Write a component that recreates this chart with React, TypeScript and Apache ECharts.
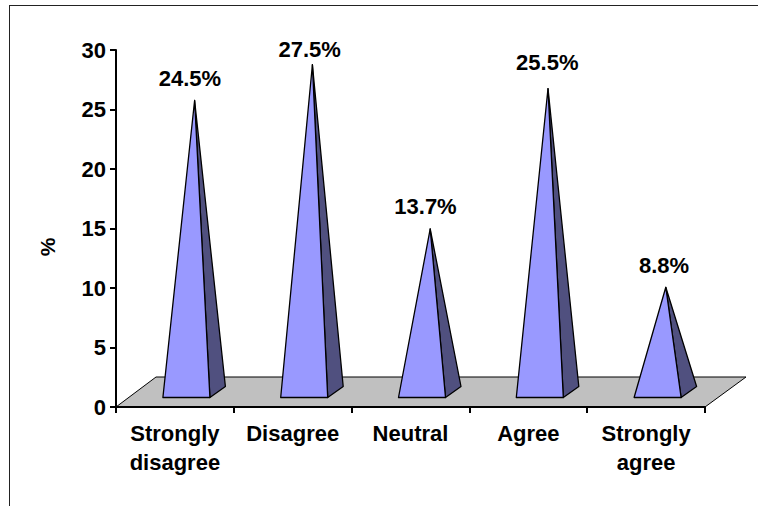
import React, { useEffect, useRef } from "react";
import * as echarts from "echarts";

const categories = ["Strongly\ndisagree", "Disagree", "Neutral", "Agree", "Strongly\nagree"];
const heights = [24.5, 27.5, 13.7, 25.5, 8.8];
const yTicks = { min: 0, max: 30, interval: 5 };
const axisTitle = "%";

const FONT = '"Liberation Sans", Arial, sans-serif';
const LABEL_FONT = `bold 22px ${FONT}`;
// layout only: pixel nudge of each value label from its pyramid's axis position / apex
const labelNudgeX = [15, 17, 15, 19, 18];
const labelNudgeY = [-22, -15.5, -22, -26, -22];

export default function App() {
  const ref = useRef<HTMLDivElement>(null);
  useEffect(() => {
    document.body.style.margin = "0";
    const chart = echarts.init(ref.current!, undefined, { renderer: "svg" });
    chart.setOption({
      animation: false,
      backgroundColor: "#ffffff",
      grid: { left: 116, right: 53, top: 50, bottom: 99 },
      xAxis: {
        type: "category",
        data: categories,
        z: 5,
        axisLine: { lineStyle: { color: "#000", width: 2 } },
        axisTick: { show: true, alignWithLabel: false, length: 6, lineStyle: { color: "#000", width: 2 } },
        axisLabel: { color: "#000", fontFamily: FONT, fontWeight: "bold", fontSize: 22, lineHeight: 29, margin: 12, interval: 0 },
      },
      yAxis: {
        type: "value",
        ...yTicks,
        z: 5,
        splitLine: { show: false },
        axisLine: { show: true, lineStyle: { color: "#000", width: 2 } },
        axisTick: { show: true, length: 6, lineStyle: { color: "#000", width: 2 } },
        axisLabel: { color: "#000", fontFamily: FONT, fontWeight: "bold", fontSize: 22, margin: 10 },
      },
      graphic: [
        { type: "line", silent: true, shape: { x1: 9.5, y1: 6, x2: 9.5, y2: 506 }, style: { stroke: "#222", lineWidth: 1 } },
        { type: "line", silent: true, shape: { x1: 9, y1: 5.5, x2: 758, y2: 5.5 }, style: { stroke: "#222", lineWidth: 1 } },
        { type: "text", silent: true, x: 47, y: 247, rotation: Math.PI / 2, style: { text: axisTitle, font: `bold 21px ${FONT}`, fill: "#000", align: "center", verticalAlign: "middle" } },
      ],
      series: [
        {
          type: "custom",
          z: 1,
          silent: true,
          clip: false,
          data: [[0, 0]],
          renderItem: (params: any) => {
            const c = params.coordSys;
            const y0 = c.y + c.height;
            const x0 = c.x;
            const x1 = c.x + c.width;
            return {
              type: "polygon",
              shape: { points: [[x0, y0], [x0 + 40, y0 - 30], [x1 + 41, y0 - 30], [x1, y0]] },
              style: { fill: "#c0c0c0", stroke: "#000", lineWidth: 1 },
            };
          },
        },
        {
          type: "custom",
          z: 3,
          silent: true,
          clip: false,
          data: heights.map((v, i) => [i, v]),
          renderItem: (_: any, api: any) => {
            const i = api.value(0);
            const v = api.value(1);
            const [cx, y0] = api.coord([i, 0]);
            const [, yv] = api.coord([i, v]);
            const apexX = cx + 19.7;
            const apexY = yv - 15;
            const fl = [cx - 12, y0 - 9.5];
            const fr = [cx + 35, y0 - 9.5];
            const br = [cx + 50.5, y0 - 20.5];
            const line = { stroke: "#000", lineWidth: 1.3, lineJoin: "round" };
            return {
              type: "group",
              children: [
                { type: "polygon", shape: { points: [fr, br, [apexX, apexY]] }, style: { fill: "#50507f", ...line } },
                { type: "polygon", shape: { points: [fl, fr, [apexX, apexY]] }, style: { fill: "#9999ff", ...line } },
                {
                  type: "text",
                  style: {
                    text: `${v.toFixed(1)}%`,
                    x: cx + labelNudgeX[i],
                    y: apexY + labelNudgeY[i],
                    font: LABEL_FONT,
                    fill: "#000",
                    align: "center",
                    verticalAlign: "middle",
                  },
                },
              ],
            };
          },
        },
      ],
    });
    return () => chart.dispose();
  }, []);
  return <div ref={ref} style={{ width: 758, height: 506 }} />;
}
